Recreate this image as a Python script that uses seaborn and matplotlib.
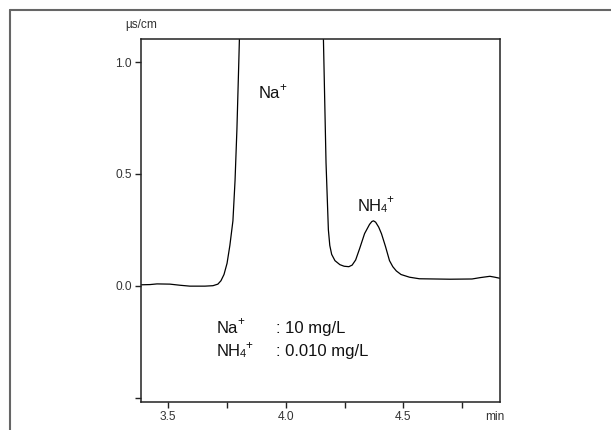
import matplotlib
matplotlib.use("Agg")
import matplotlib.pyplot as plt
from matplotlib.lines import Line2D
import seaborn as sns
import pandas as pd

# ---- data ----
time_min = [3.384, 3.422, 3.452, 3.507, 3.55, 3.592, 3.656, 3.69, 3.711, 3.724,
            3.737, 3.75, 3.762, 3.775, 3.784, 3.792, 3.80, 3.81, 3.85, 3.95,
            4.05, 4.12, 4.145, 4.16, 4.171, 4.181, 4.187, 4.195, 4.209, 4.23,
            4.248, 4.268, 4.282, 4.297, 4.314, 4.335, 4.356, 4.366, 4.373, 4.382,
            4.395, 4.407, 4.424, 4.441, 4.455, 4.47, 4.49, 4.526, 4.568, 4.699,
            4.792, 4.826, 4.868, 4.889, 4.911]
signal = [0.004, 0.005, 0.008, 0.007, 0.002, -0.002, -0.002, 0.0, 0.007, 0.022,
          0.05, 0.10, 0.18, 0.29, 0.47, 0.70, 1.0, 1.4, 2.5, 3.5,
          3.2, 2.0, 1.3, 1.10, 0.55, 0.25, 0.18, 0.14, 0.112, 0.094,
          0.087, 0.085, 0.092, 0.115, 0.166, 0.233, 0.274, 0.287, 0.29, 0.284,
          0.262, 0.232, 0.175, 0.112, 0.085, 0.066, 0.05, 0.038, 0.031, 0.029,
          0.03, 0.036, 0.042, 0.038, 0.033]

x_ticks = [3.5, 3.75, 4.0, 4.25, 4.5, 4.75]
x_tick_labels = ["3.5", "", "4.0", "", "4.5", ""]
y_ticks = [-0.5, 0.0, 0.5, 1.0]
y_tick_labels = ["", "0.0", "0.5", "1.0"]

sns.set_style("ticks")
plt.rcParams["font.family"] = ["Liberation Sans", "DejaVu Sans"]

W, H = 611, 430
fig = plt.figure(figsize=(W / 100, H / 100), dpi=100)
ax = fig.add_axes([141 / W, 1 - 402 / H, 359 / W, 363 / H])

df = pd.DataFrame({"t": time_min, "s": signal})
sns.lineplot(data=df, x="t", y="s", ax=ax, color="black", lw=0.9,
             sort=False, estimator=None)

ax.set_xlim(3.384, 4.911)
ax.set_ylim(-0.52, 1.103)
ax.set_xticks(x_ticks)
ax.set_xticklabels(x_tick_labels)
ax.set_yticks(y_ticks)
ax.set_yticklabels(y_tick_labels)
ax.set_xlabel("")
ax.set_ylabel("")
for sp in ax.spines.values():
    sp.set_visible(True)
    sp.set_color("#222222")
    sp.set_linewidth(1.1)
ax.tick_params(direction="out", length=4, width=1, pad=2.5,
               labelsize=8.6, colors="#222222", labelcolor="#333333")


def chem(x, y, parts, size, transform):
    t = ax.text(x, y, parts[0][0], fontsize=size, va="baseline", ha="left",
                transform=transform, color="#111111")
    prev = t
    for txt, kind in parts[1:]:
        if kind == "s":
            fs, dx, dy = size * 0.67, -0.6, 0
        else:
            fs, dx, dy = size * 0.7, -0.6, size * 0.43
        prev = ax.annotate(txt, xy=(1, 0), xycoords=prev, xytext=(dx, dy),
                           textcoords="offset points", fontsize=fs,
                           va="bottom", ha="left", color="#111111")
    return t


fs_main = 12
chem(3.886, 0.838, [("Na", "n"), ("+", "p")], fs_main, ax.transData)
chem(4.307, 0.336, [("NH", "n"), ("4", "s"), ("+", "p")], fs_main, ax.transData)
chem(3.705, -0.21, [("Na", "n"), ("+", "p")], fs_main, ax.transData)
chem(3.705, -0.314, [("NH", "n"), ("4", "s"), ("+", "p")], fs_main, ax.transData)
ax.text(3.959, -0.21, ": 10 mg/L", fontsize=fs_main, va="baseline", ha="left",
        color="#111111")
ax.text(3.959, -0.314, ": 0.010 mg/L", fontsize=fs_main, va="baseline",
        ha="left", color="#111111")

fig.text(141 / W, 1 - 25 / H, "\u00b5s/cm", fontsize=8.6, ha="center",
         va="center", color="#333333")
fig.text(495 / W, 1 - 416.5 / H, "min", fontsize=8.6, ha="center",
         va="center", color="#333333")

# outer frame (top and left edges)
fig.add_artist(Line2D([10 / W, 1], [1 - 10 / H, 1 - 10 / H],
                      transform=fig.transFigure, color="#666666", lw=1.5))
fig.add_artist(Line2D([10 / W, 10 / W], [1 - 10 / H, 0],
                      transform=fig.transFigure, color="#666666", lw=1.5))

fig.savefig("out.png", dpi=100)
